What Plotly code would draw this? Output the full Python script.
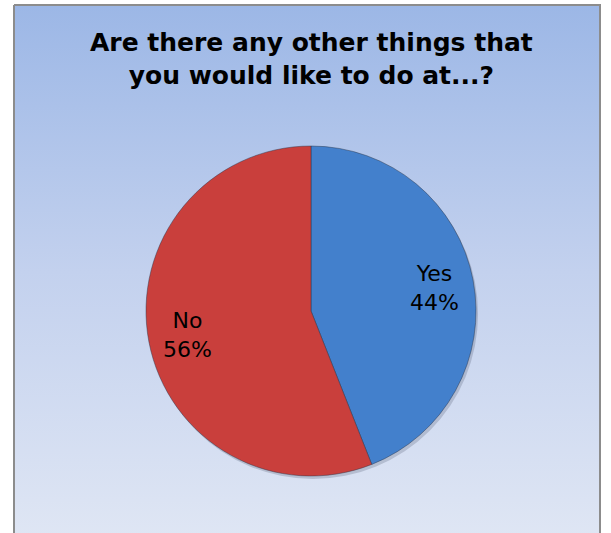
import math
import plotly.graph_objects as go

categories = ["Yes", "No"]
values = [44, 56]
colors = ["#4380cc", "#c93f3c"]
title_lines = ["Are there any other things that", "you would like to do at...?"]

W, H = 611, 533
cx, cy, R = 311, 311, 165

fig = go.Figure()

# background panel with vertical gradient
fig.add_trace(go.Scatter(
    x=[14, 600, 600, 14, 14], y=[H - 5, H - 5, -5, -5, H - 5],
    mode="lines", fill="toself", line=dict(color="#8c8c8c", width=2),
    fillgradient=dict(type="vertical",
                      colorscale=[[0, "#dfe6f4"], [0.5, "#c3d1ee"], [1, "#9cb7e6"]]),
    hoverinfo="skip", showlegend=False, xaxis="x", yaxis="y"))

dom_x = [(cx - R) / W, (cx + R) / W]
dom_y = [(H - cy - R) / H, (H - cy + R) / H]

# soft shadow
fig.add_trace(go.Pie(
    values=[1], marker=dict(colors=["rgba(60,70,90,0.22)"]),
    textinfo="none", hoverinfo="skip", showlegend=False,
    domain=dict(x=[dom_x[0] + 2 / W, dom_x[1] + 2 / W], y=[dom_y[0] - 3 / H, dom_y[1] - 3 / H])))

fig.add_trace(go.Pie(
    labels=categories, values=values, sort=False, direction="clockwise", rotation=0,
    marker=dict(colors=colors, line=dict(color="rgba(40,50,70,0.45)", width=1)),
    textinfo="none", hoverinfo="label+percent", showlegend=False,
    domain=dict(x=dom_x, y=dom_y)))

total = sum(values)
cum = 0
annotations = []
for lab, v in zip(categories, values):
    mid = (cum + v / 2) / total * 2 * math.pi
    cum += v
    r = 0.76 * R
    px = cx + r * math.sin(mid)
    py = cy - r * math.cos(mid)
    annotations.append(dict(
        x=px, y=H - py, xref="x", yref="y", showarrow=False,
        text=f"{lab}<br>{round(v / total * 100)}%",
        font=dict(family="DejaVu Sans, Verdana", size=22, color="#000000"),
        align="center"))

annotations.append(dict(
    x=311, y=H - 59, xref="x", yref="y", showarrow=False,
    text="<br>".join(f"<b>{t}</b>" for t in title_lines),
    font=dict(family="DejaVu Sans, Verdana", size=25, color="#000000"),
    align="center"))

fig.update_layout(
    width=W, height=H, margin=dict(l=0, r=0, t=0, b=0),
    paper_bgcolor="#ffffff", plot_bgcolor="rgba(0,0,0,0)",
    xaxis=dict(range=[0, W], visible=False, fixedrange=True, domain=[0, 1]),
    yaxis=dict(range=[0, H], visible=False, fixedrange=True, domain=[0, 1]),
    annotations=annotations, showlegend=False)

fig.write_html("out.html", config={"displayModeBar": False},
               post_script="document.body.style.margin='0';")
